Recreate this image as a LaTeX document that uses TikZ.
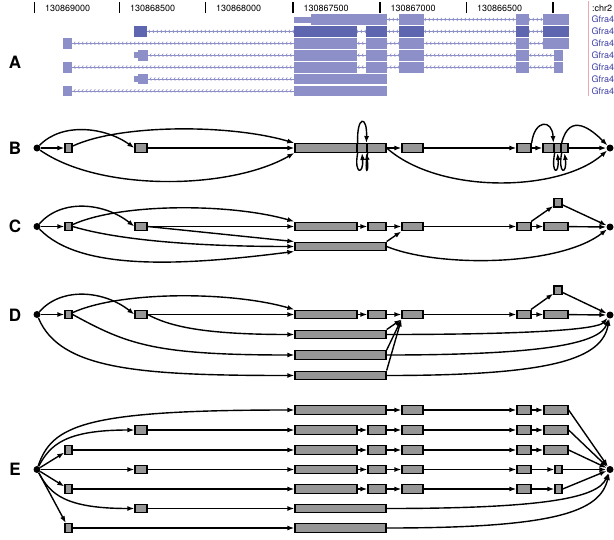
\documentclass[tikz,border=0pt]{standalone}
\usepackage{fontspec}
\setsansfont{TeX Gyre Heros}
\usetikzlibrary{arrows.meta,decorations.markings}
\definecolor{exonA}{RGB}{141,143,201}
\definecolor{exonSel}{RGB}{94,102,176}
\definecolor{boxgray}{RGB}{150,150,150}
\definecolor{chrline}{RGB}{240,165,175}
\definecolor{gfra}{RGB}{60,60,165}

\begin{document}
\begin{tikzpicture}[x=1pt, y=-1pt,
    every node/.style={font=\sffamily},
    ex/.style={draw, fill=boxgray, line width=1.3pt, minimum height=8.6pt, inner sep=0pt},
    dot/.style={circle, fill=black, minimum size=7pt, inner sep=0pt},
    edge/.style={-{Latex[length=7pt,width=5pt]}, line width=1.4pt},
    panel/.style={font=\sffamily\bfseries\fontsize{17}{17}\selectfont},
    ruler/.style={anchor=west, inner sep=0pt, font=\sffamily\fontsize{9}{10}\selectfont},
    intron/.style={draw=exonA, line width=0.7pt, postaction={decorate},
      decoration={markings, mark=between positions 2pt and -2pt step 4pt with
        {\draw[exonA, line width=0.6pt] (1.3pt,1.6pt) -- (0pt,0pt) -- (1.3pt,-1.6pt);}}}]
    \useasboundingbox (0,0) rectangle (614,539);

    % Panel letters
    \node[panel] (labA) at (15,62) {A};
    \node[panel] (labB) at (15,148) {B};
    \node[panel] (labC) at (15,226.5) {C};
    \node[panel] (labD) at (15,315) {D};
    \node[panel] (labE) at (15,469.5) {E};

    % A: ruler
    \foreach \x/\lab [count=\i] in {34.5/130869000, 119.5/130868500, 205.5/130868000, 293/130867500, 380/130867000, 466.5/130866500}{
        \draw[line width=1.4pt] (\x,2) -- (\x,13);
        \node[ruler] (tick\i) at (\x+10.5,8) {\lab};
    }
    \draw[line width=1.4pt] (553,2) -- (553,13);
    \draw[chrline, line width=1.5pt] (588.5,1) -- (588.5,96);
    \node[ruler] (chr) at (592,8) {:chr2};

    % A: transcripts
    \draw[intron] (386.5,19.5) -- (568.5,19.5);
    \fill[exonA] (294,16.5) rectangle (311,22.5);
    \foreach \a/\b in {311/386.5, 399/424, 516/529, 543/568.5}
        \fill[exonA] (\a,14.1) rectangle (\b,24.9);

    \draw[intron] (146.5,31.4) -- (568.5,31.4);
    \foreach \a/\b in {134/146.5, 294/357, 366/386.5, 399/424, 516/529, 543/568.5}
        \fill[exonSel] (\a,26) rectangle (\b,36.8);

    \draw[intron] (72,43.3) -- (568.5,43.3);
    \foreach \a/\b in {63.4/72, 294/357, 366/386.5, 399/424, 516/529, 543/568.5}
        \fill[exonA] (\a,37.9) rectangle (\b,48.7);

    \draw[intron] (148,55.2) -- (562.5,55.2);
    \fill[exonA] (134,52.2) rectangle (138,58.2);
    \foreach \a/\b in {138/148, 294/357, 366/386.5, 399/424, 516/529, 554/562.5}
        \fill[exonA] (\a,49.8) rectangle (\b,60.6);

    \draw[intron] (72,67.1) -- (562.5,67.1);
    \foreach \a/\b in {63.4/72, 294/357, 366/386.5, 399/424, 516/529, 554/562.5}
        \fill[exonA] (\a,61.7) rectangle (\b,72.5);

    \draw[intron] (148,79) -- (294,79);
    \fill[exonA] (134,76) rectangle (138,82);
    \foreach \a/\b in {138/148, 294/386.5}
        \fill[exonA] (\a,73.6) rectangle (\b,84.4);

    \draw[intron] (72,90.9) -- (294,90.9);
    \foreach \a/\b in {63.4/72, 294/386.5}
        \fill[exonA] (\a,85.5) rectangle (\b,96.3);

    \begin{scope}
        \clip (0,0) rectangle (614,539);
        \foreach \y [count=\i] in {19.5, 31.4, 43.3, 55.2, 67.1, 79, 90.9}
            \node[ruler, gfra] (tr\i) at (591.5,\y) {Gfra4};
    \end{scope}

    % B: splice graph
    \node[dot] (srcB) at (37,148) {};
    \node[dot] (snkB) at (610,148) {};
    \node[ex, minimum width=7pt] (bs1) at (68.5,148) {};
    \node[ex, minimum width=12pt] (bs2) at (141,148) {};
    \node[ex, minimum width=62pt] (bL) at (326,148) {};
    \node[ex, minimum width=10pt] (bM) at (362,148) {};
    \node[ex, minimum width=19pt] (bR) at (376.5,148) {};
    \node[ex, minimum width=21pt] (b3) at (412.5,148) {};
    \node[ex, minimum width=14pt] (b4) at (524,148) {};
    \node[ex, minimum width=11pt] (bp) at (548.5,148) {};
    \node[ex, minimum width=7pt] (bq) at (557.5,148) {};
    \node[ex, minimum width=7pt] (br) at (564.5,148) {};

    \draw[edge] (srcB) -- (bs1);
    \draw[edge] (srcB) .. controls (62,122) and (105,127) .. (bs2.west);
    \draw[edge] (bs1) .. controls (120,124) and (230,124) .. (bL.north west);
    \draw[edge] (srcB) .. controls (100,192) and (230,190) .. (bL.south west);
    \draw[edge] (bs2) -- (bL);
    \draw[edge] (bL.north east) .. controls +(-1,-28) and +(1,-28) .. (bR.north west);
    \draw[edge] (bL.south east) .. controls +(-4,22) and +(2,22) .. (bM.south);
    \draw[edge] (bM.south east) .. controls +(-4,22) and +(3,22) .. (bR.south west);
    \draw[edge] (bR) -- (b3);
    \draw[edge] (b3) -- (b4);
    \draw[edge] (b4) -- (bp);
    \draw[edge] (b4.north east) .. controls +(3,-24) and +(-1,-24) .. (bq.north west);
    \draw[edge] (bp.south east) .. controls +(-4,22) and +(2,22) .. (bq.south);
    \draw[edge] (bq.south east) .. controls +(-4,22) and +(3,22) .. (br.south);
    \draw[edge] (bq.north east) .. controls +(8,-32) and +(-18,-18) .. (snkB);
    \draw[edge] (br) -- (snkB);
    \draw[edge] (bR.east) .. controls (440,195) and (560,192) .. (snkB);

    % C
    \node[dot] (srcC) at (37,226.5) {};
    \node[dot] (snkC) at (610,227) {};
    \node[ex, minimum width=7pt] (cs1) at (68.5,226.5) {};
    \node[ex, minimum width=12pt] (cs2) at (141,226.5) {};
    \node[ex, minimum width=62pt] (cL) at (326,226.5) {};
    \node[ex, minimum width=18pt] (cR) at (377,226.5) {};
    \node[ex, minimum width=21pt] (c3) at (412.5,226.5) {};
    \node[ex, minimum width=14pt] (c4) at (524,226.5) {};
    \node[ex, minimum width=24pt] (c5) at (556,226.5) {};
    \node[ex, minimum width=8pt] (c5s) at (558,202.8) {};
    \node[ex, minimum width=91pt] (cF) at (340.5,246.5) {};

    \draw[edge] (srcC) -- (cs1);
    \draw[edge] (srcC) .. controls (62,198) and (105,203) .. (cs2.west);
    \draw[edge] (cs1) .. controls (120,203) and (230,203) .. (cL.north west);
    \draw[edge] (cs2) -- (cL);
    \draw[edge] (cs2.east) -- (cF.north west);
    \draw[edge] (cs1.east) .. controls +(40,12) and +(-110,0) .. (cF.west);
    \draw[edge] (srcC) .. controls (80,271) and (180,266) .. (cF.south west);
    \draw[edge] (cL) -- (cR);
    \draw[edge] (cR) -- (c3);
    \draw[edge] (c3) -- (c4);
    \draw[edge] (c4) -- (c5);
    \draw[edge] (c5) -- (snkC);
    \draw[edge] (c4) -- (c5s);
    \draw[edge] (c5s) -- (snkC);
    \draw[edge] (cF.north east) -- (c3.south west);
    \draw[edge] (cF.east) .. controls (440,268) and (560,266) .. (snkC);

    % D
    \node[dot] (srcD) at (37,314.5) {};
    \node[dot] (snkD) at (610,315) {};
    \node[ex, minimum width=7pt] (ds1) at (68.5,314.5) {};
    \node[ex, minimum width=12pt] (ds2) at (141,314.5) {};
    \node[ex, minimum width=62pt] (dL) at (326,314.5) {};
    \node[ex, minimum width=18pt] (dR) at (377,314.5) {};
    \node[ex, minimum width=21pt] (d3) at (412.5,314.5) {};
    \node[ex, minimum width=14pt] (d4) at (524,314.5) {};
    \node[ex, minimum width=24pt] (d5) at (556,314.5) {};
    \node[ex, minimum width=8pt] (d5s) at (558,290.3) {};
    \node[ex, minimum width=91pt] (dF1) at (340.5,334.5) {};
    \node[ex, minimum width=91pt] (dF2) at (340.5,355) {};
    \node[ex, minimum width=91pt] (dF3) at (340.5,375.5) {};

    \draw[edge] (srcD) -- (ds1);
    \draw[edge] (srcD) .. controls (62,286) and (105,291) .. (ds2.west);
    \draw[edge] (ds1) .. controls (120,291) and (230,291) .. (dL.north west);
    \draw[edge] (ds2) -- (dL);
    \draw[edge] (ds2.east) .. controls +(22,12) and +(-90,0) .. (dF1.west);
    \draw[edge] (ds1.east) .. controls +(55,30) and +(-140,0) .. (dF2.west);
    \draw[edge] (srcD) .. controls (60,370) and (140,375.5) .. (dF3.west);
    \draw[edge] (dL) -- (dR);
    \draw[edge] (dR) -- (d3);
    \draw[edge] (d3) -- (d4);
    \draw[edge] (d4) -- (d5);
    \draw[edge] (d5) -- (snkD);
    \draw[edge] (d4) -- (d5s);
    \draw[edge] (d5s) -- (snkD);
    \draw[edge] (dF1.north east) -- (d3.south west);
    \draw[edge] (dF2.north east) -- (d3.south west);
    \draw[edge] (dF3.north east) -- (d3.south west);
    \draw[edge] (dF1.east) .. controls +(150,0) and +(-12,14) .. (snkD);
    \draw[edge] (dF2.east) .. controls +(160,0) and +(-10,28) .. (snkD);
    \draw[edge] (dF3.east) .. controls +(170,0) and +(-8,43) .. (snkD);

    % E: one path per transcript
    \node[dot] (srcE) at (37,469.5) {};
    \node[dot] (snkE) at (610,469.5) {};
    \node[ex, minimum width=91pt] (eaF) at (340.5,410) {};
    \node[ex, minimum width=21pt] (ea3) at (412.5,410) {};
    \node[ex, minimum width=14pt] (ea4) at (524,410) {};
    \node[ex, minimum width=24pt] (ea5) at (556,410) {};
    \draw[edge] (srcE) .. controls (52,425) and (85,410) .. (eaF.west);
    \draw[edge] (eaF) -- (ea3);
    \draw[edge] (ea3) -- (ea4);
    \draw[edge] (ea4) -- (ea5);
    \draw[edge] (ea5.east) -- (snkE);

    \foreach \r/\y/\sx/\sw/\tx/\tw in {b/430/141/12/556/24, c/450/68.5/7/556/24, d/469.5/141/12/558.5/7, e/489/68.5/7/558.5/7}{
        \node[ex, minimum width=\sw pt] (e\r s) at (\sx,\y) {};
        \node[ex, minimum width=62pt] (e\r L) at (326,\y) {};
        \node[ex, minimum width=18pt] (e\r R) at (377,\y) {};
        \node[ex, minimum width=21pt] (e\r 3) at (412.5,\y) {};
        \node[ex, minimum width=14pt] (e\r 4) at (524,\y) {};
        \node[ex, minimum width=\tw pt] (e\r 5) at (\tx,\y) {};
        \draw[edge] (e\r s) -- (e\r L);
        \draw[edge] (e\r L) -- (e\r R);
        \draw[edge] (e\r R) -- (e\r 3);
        \draw[edge] (e\r 3) -- (e\r 4);
        \draw[edge] (e\r 4) -- (e\r 5);
        \draw[edge] (e\r 5.east) -- (snkE);
    }
    \draw[edge] (srcE) .. controls (50,445) and (65,430) .. (ebs.west);
    \draw[edge] (srcE) -- (ecs);
    \draw[edge] (srcE) -- (eds);
    \draw[edge] (srcE) -- (ees);

    \node[ex, minimum width=12pt] (efs) at (141,508.5) {};
    \node[ex, minimum width=91pt] (efF) at (340.5,508.5) {};
    \node[ex, minimum width=7pt] (egs) at (68.5,528) {};
    \node[ex, minimum width=91pt] (egF) at (340.5,528) {};
    \draw[edge] (srcE) .. controls (50,494) and (65,508.5) .. (efs.west);
    \draw[edge] (srcE) -- (egs);
    \draw[edge] (efs) -- (efF);
    \draw[edge] (egs) -- (egF);
    \draw[edge] (efF.east) .. controls +(160,0) and +(-12,28) .. (snkE);
    \draw[edge] (egF.east) .. controls +(170,0) and +(-10,42) .. (snkE);
\end{tikzpicture}
\end{document}
